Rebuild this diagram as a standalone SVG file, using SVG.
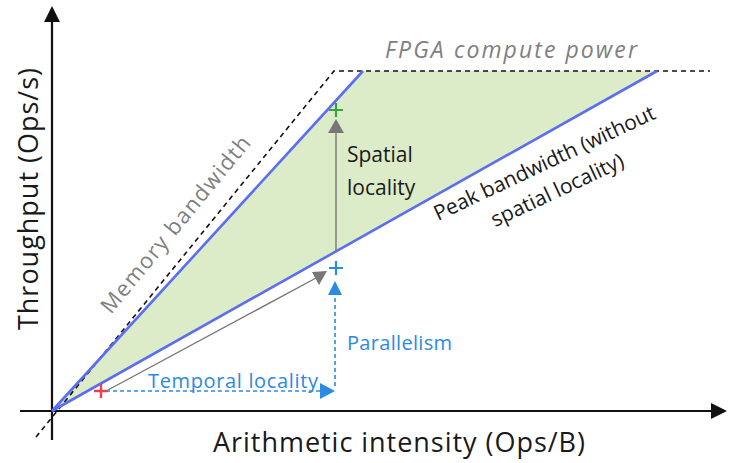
<svg xmlns="http://www.w3.org/2000/svg" width="730" height="463" viewBox="0 0 730 463">
<style>
text{font-family:"Open Sans",Lato,"DejaVu Sans",sans-serif}
.ax{stroke:#111;stroke-width:2.2;fill:none}
.dash{stroke:#111;stroke-width:1.6;fill:none;stroke-dasharray:5,4}
.bl{stroke:#5b6ef2;stroke-width:2.6;fill:none}
.bdash{stroke:#2a8be2;stroke-width:1.6;fill:none;stroke-dasharray:4,3}
.gray{stroke:#777;stroke-width:1.4;fill:none}
.lbl{fill:#1a1a1a}
.blt{fill:#2a8be2}
.gt{fill:#808080}
</style>
<g id="region">
<polygon points="52,411 362,71 656,71" fill="#dcebc8"/>
</g>
<g id="axes">
<line class="ax" x1="52" y1="440" x2="52" y2="22"/>
<polygon points="52,6 44,22 60,22" fill="#111"/>
<line class="ax" x1="20" y1="411" x2="712" y2="411"/>
<polygon points="727,411 711,403 711,419" fill="#111"/>
</g>
<g id="connectors">
<polyline class="dash" points="36,437 334,71 710,71"/>
<line class="bl" x1="52" y1="411" x2="363" y2="71"/>
<line class="bl" x1="52" y1="411" x2="657" y2="71"/>
<line class="gray" x1="336" y1="251" x2="336" y2="132"/>
<polygon points="336,119 328,133 344,133" fill="#777"/>
<line class="gray" x1="108" y1="390" x2="316" y2="278"/>
<polygon points="327,271 312,272 319,285" fill="#777"/>
<line class="bdash" x1="106" y1="391" x2="320" y2="391"/>
<polygon points="335,391 320,383 320,399" fill="#2a8be2"/>
<line class="bdash" x1="335" y1="386" x2="335" y2="296"/>
<polygon points="335,281 328,295 342,295" fill="#2a8be2"/>
</g>
<g id="markers">
<path d="M94,391H108M101,384V398" stroke="#e8444a" stroke-width="2.4"/>
<path d="M329,268H343M336,261V275" stroke="#2a8be2" stroke-width="2.2"/>
<path d="M329,110H343M336,103V117" stroke="#3aa040" stroke-width="2.2"/>
</g>
<g id="labels">
<text class="gt" x="385" y="58" font-size="23" font-style="italic" textLength="252">FPGA compute power</text>
<text class="gt" font-size="22" transform="translate(111,315) rotate(-50.6)" textLength="222">Memory bandwidth</text>
<g transform="translate(438,221) rotate(-25.2)">
<text class="lbl" x="121" y="0" font-size="21" text-anchor="middle" textLength="242">Peak bandwidth (without</text>
<text class="lbl" x="121" y="30" font-size="21" text-anchor="middle">spatial locality)</text>
</g>
<text class="lbl" x="347" y="162" font-size="21">Spatial</text>
<text class="lbl" x="347" y="195" font-size="21">locality</text>
<text class="blt" x="347" y="350" font-size="20" textLength="105">Parallelism</text>
<text class="blt" x="148" y="388" font-size="20" textLength="170">Temporal locality</text>
<text class="lbl" x="213" y="452" font-size="27" textLength="372">Arithmetic intensity (Ops/B)</text>
<text class="lbl" font-size="27" transform="translate(38,330) rotate(-90)" textLength="262">Throughput (Ops/s)</text>
</g>
</svg>
